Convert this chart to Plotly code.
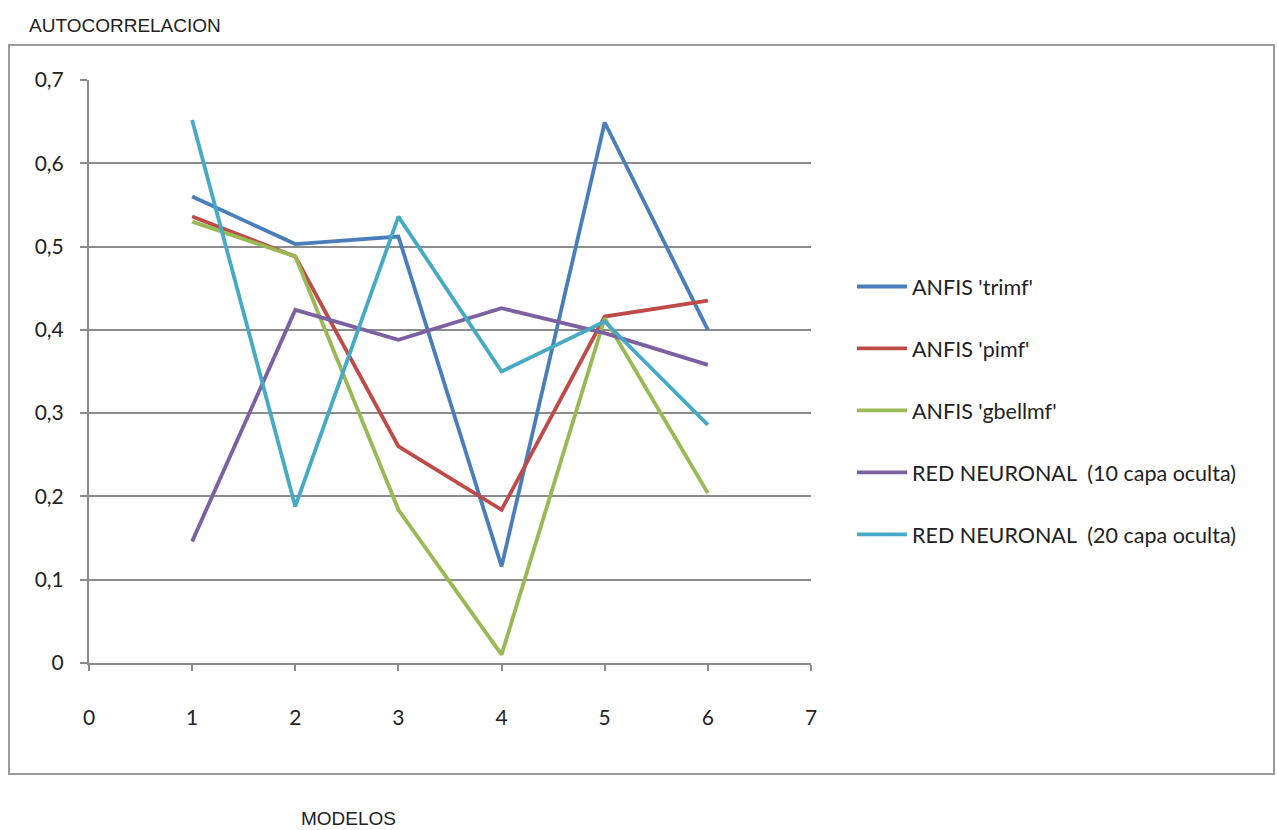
import plotly.graph_objects as go

# Model index on the horizontal axis
modelos = [1, 2, 3, 4, 5, 6]

# Autocorrelation per model for each method
anfis_trimf = [0.560, 0.503, 0.512, 0.116, 0.649, 0.400]
anfis_pimf = [0.536, 0.488, 0.260, 0.184, 0.416, 0.435]
anfis_gbellmf = [0.530, 0.488, 0.184, 0.010, 0.414, 0.204]
red_10 = [0.146, 0.424, 0.388, 0.426, 0.396, 0.358]
red_20 = [0.652, 0.188, 0.536, 0.350, 0.410, 0.286]

series_names = [
    "ANFIS 'trimf'",
    "ANFIS 'pimf'",
    "ANFIS 'gbellmf'",
    "RED NEURONAL  (10 capa oculta)",
    "RED NEURONAL  (20 capa oculta)",
]
series_values = [anfis_trimf, anfis_pimf, anfis_gbellmf, red_10, red_20]
series_colors = ["#4A7EBB", "#BE4B48", "#98B954", "#7D60A0", "#46AAC5"]

y_ticks = [0, 0.1, 0.2, 0.3, 0.4, 0.5, 0.6, 0.7]
x_ticks = [0, 1, 2, 3, 4, 5, 6, 7]

fig = go.Figure()
for i, (name, vals, col) in enumerate(zip(series_names, series_values, series_colors)):
    fig.add_trace(go.Scatter(
        x=modelos, y=vals, name=name, mode="lines",
        line=dict(color=col, width=3.8),
        legendgroup=f"g{i}",
    ))

W, H = 1277, 830
L, R, T, B = 89, 811, 80, 663
pw, ph = R - L, B - T

def px_to_paper_x(px):
    return (px - L) / pw

def px_to_paper_y(py):
    return (B - py) / ph

fig.update_layout(
    width=W, height=H,
    margin=dict(l=L, r=W - R, t=T, b=H - B, pad=0),
    paper_bgcolor="white", plot_bgcolor="white",
    separators=",.",
    showlegend=True,
    legend=dict(
        x=px_to_paper_x(852), y=px_to_paper_y(266),
        xanchor="left", yanchor="top",
        font=dict(family="Lato, Carlito, sans-serif", size=21.5, color="#222"),
        tracegroupgap=31,
        bgcolor="rgba(0,0,0,0)",
        itemwidth=50,
    ),
    xaxis=dict(
        range=[0, 7], tickmode="array", tickvals=x_ticks,
        showgrid=False, zeroline=False,
        showline=True, linecolor="#8c8c8c", linewidth=2,
        ticks="outside", ticklen=6, tickcolor="#8c8c8c", tickwidth=1.5,
        tickfont=dict(family="Lato, sans-serif", size=21, color="#222"),
        ticklabelstandoff=29,
    ),
    yaxis=dict(
        range=[0, 0.7], tickmode="array", tickvals=y_ticks,
        tickformat=".1~f",
        showgrid=True, gridcolor="#8c8c8c", gridwidth=2,
        zeroline=False,
        showline=True, linecolor="#8c8c8c", linewidth=2,
        ticks="outside", ticklen=7, tickcolor="#8c8c8c", tickwidth=1.5,
        tickfont=dict(family="Lato, sans-serif", size=21, color="#222"),
        ticklabelstandoff=12,
    ),
)

# Outer chart frame
fig.add_shape(
    type="rect", xref="paper", yref="paper",
    x0=px_to_paper_x(9), x1=px_to_paper_x(1274),
    y0=px_to_paper_y(774), y1=px_to_paper_y(45),
    line=dict(color="#9a9a9a", width=2), fillcolor="rgba(0,0,0,0)",
    layer="below",
)

# Axis titles
fig.add_annotation(
    text="AUTOCORRELACION", xref="paper", yref="paper",
    x=px_to_paper_x(27), y=px_to_paper_y(25),
    xanchor="left", yanchor="middle", showarrow=False,
    font=dict(family="Liberation Sans, Arial, sans-serif", size=19, color="#222"),
)
fig.add_annotation(
    text="MODELOS", xref="paper", yref="paper",
    x=px_to_paper_x(348), y=px_to_paper_y(818),
    xanchor="center", yanchor="middle", showarrow=False,
    font=dict(family="Liberation Sans, Arial, sans-serif", size=19, color="#222"),
)

fig.write_html("out.html")
